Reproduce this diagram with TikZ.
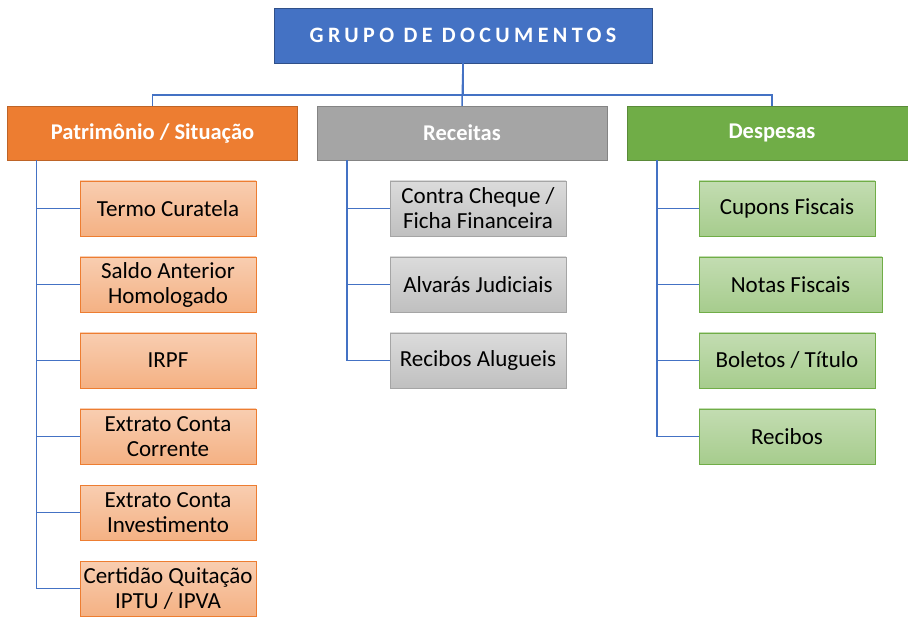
\documentclass[tikz,border=0pt]{standalone}
\usepackage{fontspec}
\setmainfont{Carlito}
\usetikzlibrary{positioning}
\definecolor{docblue}{HTML}{4472C4}
\definecolor{docorange}{HTML}{ED7D31}
\definecolor{docgray}{HTML}{A5A5A5}
\definecolor{docgreen}{HTML}{70AD47}
\tikzset{x=1pt, y=-1pt, % pixel grid, y going down
every node/.style={align=center, inner sep=2pt},
title/.style={ % top box
draw=docblue!70!black, fill=docblue, text=white,
minimum width=378pt, minimum height=55pt,
font=\fontsize{22}{24}\selectfont\bfseries\addfontfeature{LetterSpace=20}},
group/.style={ % second level boxes
draw=#1!80!black, fill=#1, text=white,
minimum width=290pt, minimum height=54pt,
font=\fontsize{22.5}{25}\selectfont\bfseries},
item/.style={ % documents
draw=#1, line width=0.9pt,
minimum width=176pt, minimum height=55pt,
font=\fontsize{23}{25}\selectfont},
orangeitem/.style={item=docorange, top color=docorange!38!white, bottom color=docorange!60!white},
grayitem/.style={item=docgray, top color=docgray!40!white, bottom color=docgray!70!white},
greenitem/.style={item=docgreen, top color=docgreen!42!white, bottom color=docgreen!62!white},
link/.style={draw=docblue, line width=1.5pt}}

\begin{document}
\begin{tikzpicture}
\useasboundingbox (0,0) rectangle (908,617);
\node[title] (grupo) at (463,35.5) {GRUPO DE DOCUMENTOS};
\node[group=docorange] (patrimonio) at (152.5,133) {Patrimônio / Situação};
\node[group=docgray] (receitas) at (462,133) {Receitas};
\node[group=docgreen] (despesas) at (772,133) {Despesas};
% Patrimonio / Situacao
\node[orangeitem] (termo) at (168,208.5) {Termo Curatela};
\node[orangeitem] (saldo) at (168,284.5) {Saldo Anterior\\Homologado};
\node[orangeitem] (irpf) at (168,360.5) {IRPF};
\node[orangeitem] (corrente) at (168,436.5) {Extrato Conta\\Corrente};
\node[orangeitem] (investimento) at (168,512.5) {Extrato Conta\\Investimento};
\node[orangeitem] (certidao) at (168,588.5) {Certidão Quitação\\IPTU / IPVA};
% Receitas
\node[grayitem] (cheque) at (478,208.5) {Contra Cheque /\\Ficha Financeira};
\node[grayitem] (alvaras) at (478,284.5) {Alvarás Judiciais};
\node[grayitem] (alugueis) at (478,360.5) {Recibos Alugueis};
% Despesas
\node[greenitem] (cupons) at (787,208.5) {Cupons Fiscais};
\node[greenitem, minimum width=183pt] (notas) at (790.5,284.5) {Notas Fiscais};
\node[greenitem] (boletos) at (787,360.5) {Boletos / Título};
\node[greenitem] (recibos) at (787,436.5) {Recibos};
% connectors
\draw[link] (grupo.south) -- ++(0,-32pt) -| (patrimonio.north);
\draw[link] (grupo.south) -- ++(0,-32pt) -| (despesas.north);
\draw[link] (grupo.south) -- (receitas.north);
\draw[link] ([xshift=29pt]patrimonio.south west) |- (termo.west);
\draw[link] ([xshift=29pt]patrimonio.south west) |- (saldo.west);
\draw[link] ([xshift=29pt]patrimonio.south west) |- (irpf.west);
\draw[link] ([xshift=29pt]patrimonio.south west) |- (corrente.west);
\draw[link] ([xshift=29pt]patrimonio.south west) |- (investimento.west);
\draw[link] ([xshift=29pt]patrimonio.south west) |- (certidao.west);
\draw[link] ([xshift=30pt]receitas.south west) |- (cheque.west);
\draw[link] ([xshift=30pt]receitas.south west) |- (alvaras.west);
\draw[link] ([xshift=30pt]receitas.south west) |- (alugueis.west);
\draw[link] ([xshift=30pt]despesas.south west) |- (cupons.west);
\draw[link] ([xshift=30pt]despesas.south west) |- (notas.west);
\draw[link] ([xshift=30pt]despesas.south west) |- (boletos.west);
\draw[link] ([xshift=30pt]despesas.south west) |- (recibos.west);
\end{tikzpicture}
\end{document}
